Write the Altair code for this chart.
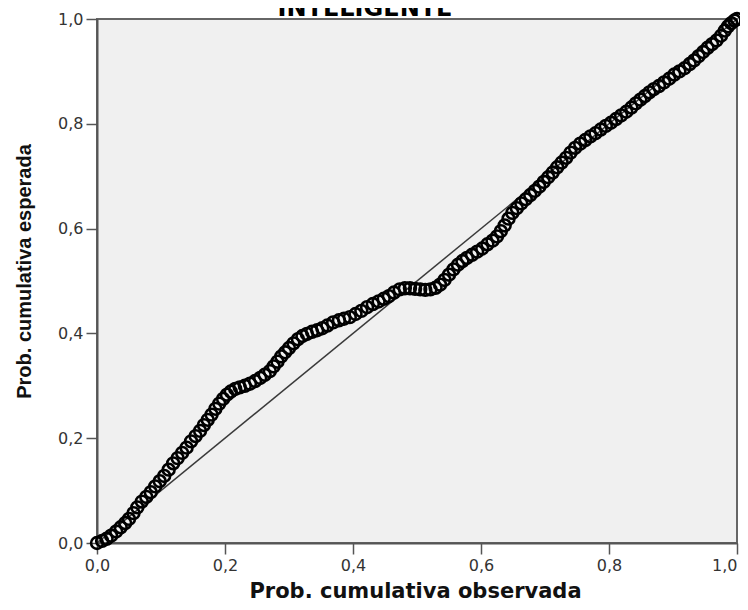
import altair as alt
import pandas as pd

obs = [0.000, 0.008, 0.015, 0.022, 0.030, 0.037, 0.044, 0.050, 0.057, 0.063,
       0.070, 0.077, 0.084, 0.091, 0.098, 0.105, 0.112, 0.119, 0.126, 0.133,
       0.140, 0.147, 0.154, 0.161, 0.167, 0.173, 0.179, 0.185, 0.191, 0.197,
       0.203, 0.209, 0.216, 0.223, 0.231, 0.239, 0.247, 0.255, 0.262, 0.270,
       0.276, 0.282, 0.288, 0.294, 0.300, 0.307, 0.314, 0.321, 0.328, 0.336,
       0.344, 0.352, 0.360, 0.369, 0.378, 0.386, 0.395, 0.404, 0.413, 0.422,
       0.431, 0.440, 0.448, 0.456, 0.464, 0.473, 0.481, 0.489, 0.497, 0.505,
       0.513, 0.521, 0.529, 0.536, 0.543, 0.550, 0.557, 0.564, 0.571, 0.578,
       0.586, 0.594, 0.602, 0.610, 0.618, 0.625, 0.631, 0.637, 0.643, 0.649,
       0.656, 0.663, 0.670, 0.677, 0.684, 0.691, 0.698, 0.705, 0.712, 0.719,
       0.726, 0.733, 0.740, 0.747, 0.755, 0.763, 0.771, 0.779, 0.787, 0.795,
       0.803, 0.811, 0.819, 0.827, 0.835, 0.842, 0.849, 0.856, 0.863, 0.870,
       0.878, 0.886, 0.894, 0.902, 0.910, 0.918, 0.926, 0.933, 0.940, 0.947,
       0.954, 0.961, 0.968, 0.975, 0.981, 0.986, 0.991, 0.996, 1.000]
esp = [0.000, 0.004, 0.008, 0.014, 0.022, 0.030, 0.038, 0.046, 0.057, 0.068,
       0.079, 0.088, 0.097, 0.108, 0.118, 0.128, 0.140, 0.152, 0.162, 0.172,
       0.182, 0.194, 0.204, 0.214, 0.225, 0.235, 0.245, 0.256, 0.266, 0.275,
       0.283, 0.289, 0.294, 0.297, 0.300, 0.304, 0.309, 0.315, 0.321, 0.328,
       0.337, 0.346, 0.356, 0.364, 0.372, 0.381, 0.389, 0.395, 0.399, 0.403,
       0.406, 0.410, 0.415, 0.421, 0.425, 0.428, 0.431, 0.437, 0.443, 0.450,
       0.456, 0.461, 0.466, 0.471, 0.478, 0.484, 0.486, 0.486, 0.485, 0.484,
       0.483, 0.484, 0.487, 0.493, 0.502, 0.512, 0.522, 0.531, 0.538, 0.544,
       0.550, 0.556, 0.562, 0.570, 0.577, 0.585, 0.595, 0.606, 0.619, 0.630,
       0.639, 0.648, 0.656, 0.664, 0.672, 0.680, 0.689, 0.698, 0.707, 0.717,
       0.726, 0.735, 0.745, 0.754, 0.762, 0.769, 0.776, 0.782, 0.789, 0.796,
       0.802, 0.809, 0.816, 0.823, 0.831, 0.839, 0.846, 0.853, 0.860, 0.866,
       0.872, 0.879, 0.886, 0.894, 0.900, 0.906, 0.914, 0.921, 0.929, 0.937,
       0.945, 0.952, 0.959, 0.968, 0.978, 0.986, 0.992, 0.997, 1.000]

diag_x = [0.0, 1.0]
diag_y = [0.0, 1.0]
tick_values = [0.0, 0.2, 0.4, 0.6, 0.8, 1.0]
title_text = ["INTELIGENTE"]
x_title = "Prob. cumulativa observada"
y_title = "Prob. cumulativa esperada"

pts = pd.DataFrame({"obs": obs, "esp": esp})
diag = pd.DataFrame({"obs": diag_x, "esp": diag_y})
ttl = pd.DataFrame({"t": title_text})

label_expr = "replace(format(datum.value, '.1f'), '.', ',')"
xscale = alt.Scale(domain=[0, 1], nice=False, zero=False)
yscale = alt.Scale(domain=[0, 1], nice=False, zero=False)

xaxis = alt.Axis(title=x_title, values=tick_values, labelExpr=label_expr, grid=False,
                 labelFlush=False, tickSize=11, labelPadding=3,
                 labelAlign={"expr": "datum.value >= 1 ? 'right' : 'center'"},
                 titleFont="DejaVu Sans", titleFontSize=21, titleFontWeight="bold",
                 titleX=318, titleY=58, titleBaseline="bottom", titleAlign="center")
yaxis = alt.Axis(title=y_title, values=tick_values, labelExpr=label_expr, grid=False,
                 labelFlush=False, tickSize=11, labelPadding=3,
                 titleFont="Liberation Sans", titleFontSize=20, titleFontWeight="bold",
                 titleX=-67, titleY=252, titleAngle=270, titleBaseline="alphabetic",
                 titleAlign="center")

line = alt.Chart(diag).mark_line(color="#3a3a3a", strokeWidth=1.5).encode(
    x=alt.X("obs:Q", scale=xscale, axis=xaxis),
    y=alt.Y("esp:Q", scale=yscale, axis=yaxis),
)

points = alt.Chart(pts).mark_point(shape="circle", filled=False, color="black",
                                   size=140, strokeWidth=2.6, opacity=1).encode(
    x=alt.X("obs:Q", scale=xscale, axis=xaxis),
    y=alt.Y("esp:Q", scale=yscale, axis=yaxis),
)

title = alt.Chart(ttl).mark_text(font="DejaVu Sans", fontSize=24, fontWeight="bold",
                                 baseline="alphabetic", align="center", color="black").encode(
    x=alt.value(268), y=alt.value(-3), text="t:N"
)

chart = alt.layer(line, points, title).properties(
    width=640, height=524,
    autosize=alt.AutoSizeParams(type="none"),
    padding={"left": 89, "top": 11, "right": 3, "bottom": 59},
).configure_view(
    fill="#F0F0F0", stroke="#666666", strokeWidth=2
).configure_axis(
    domainColor="#555555", domainWidth=2, tickColor="#555555", tickWidth=1.5,
    labelFont="DejaVu Sans", labelFontSize=16, labelColor="#333333", titleColor="#111111"
)

chart.save("out.html", embed_options={"renderer": "svg", "actions": False})
